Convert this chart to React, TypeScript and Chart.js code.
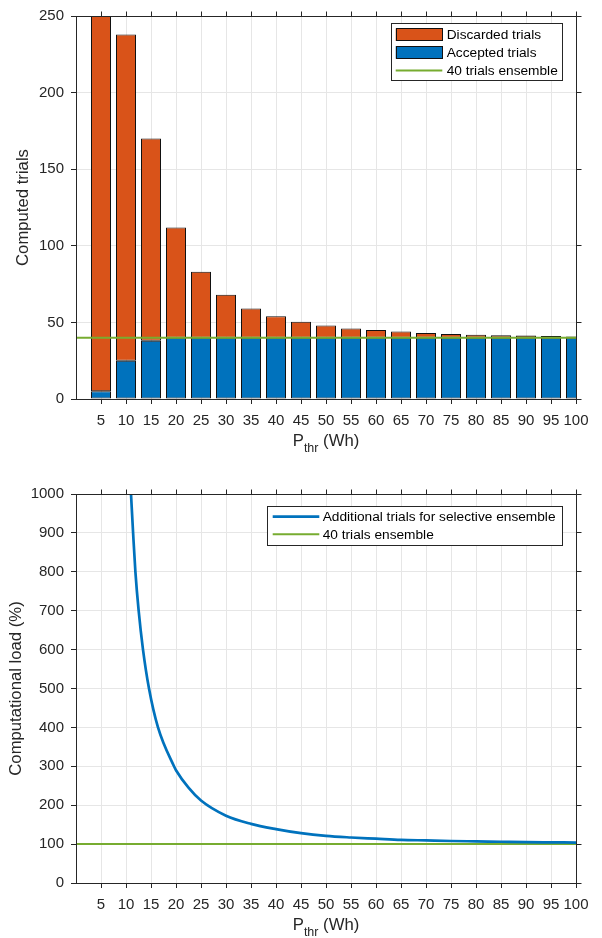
import React, { useEffect, useRef } from "react";
import { Chart, registerables } from "chart.js";

Chart.register(...registerables);

// ---------- data ----------
const P_THR = [5, 10, 15, 20, 25, 30, 35, 40, 45, 50, 55, 60, 65, 70, 75, 80, 85, 90, 95, 100];
const ACCEPTED = [5, 25, 38, 40, 40, 40, 40, 40, 40, 40, 40, 40, 40, 40, 40, 40, 40, 40, 40, 40];
const DISCARDED = [245, 213, 132, 72, 43, 28, 19, 14, 10.5, 8, 6, 5, 4, 3, 2.5, 2, 1.6, 1.4, 1.1, 0.8];
const ENSEMBLE_TRIALS = 40;

const LOAD_P = [11.0, 11.42, 11.88, 12.53, 13.4, 14.6, 16.4, 19.6, 20, 22.5, 25, 30, 35, 40, 45, 50, 55, 60, 65, 70, 75, 80, 85, 90, 95, 100];
const LOAD_PCT = [1000, 900, 800, 700, 600, 500, 400, 300, 290, 245, 212, 173, 152, 138.5, 128, 121, 117, 114, 111, 109.5, 108, 107, 106, 105, 104.5, 104];
const ENSEMBLE_LOAD = 100;

const X_TICKS = [5, 10, 15, 20, 25, 30, 35, 40, 45, 50, 55, 60, 65, 70, 75, 80, 85, 90, 95, 100];
const X_RANGE = [0, 100];
const Y1_RANGE = [0, 250];
const Y1_STEP = 50;
const Y2_RANGE = [0, 1000];
const Y2_STEP = 100;

const LABEL_DISCARDED = "Discarded trials";
const LABEL_ACCEPTED = "Accepted trials";
const LABEL_ENSEMBLE = "40 trials ensemble";
const LABEL_ADDITIONAL = "Additional trials for selective ensemble";
const Y1_TITLE = "Computed trials";
const Y2_TITLE = "Computational load (%)";

// ---------- styles ----------
const FONT = "'Liberation Sans', Arial, Helvetica, sans-serif";
const AX = "#262626";
const GRID = "#e6e6e6";
const BLUE = "#0072BD";
const ORANGE = "#D95319";
const GREEN = "#77AC30";

const al = (v: number) => Math.round(v - 0.5) + 0.5;

const framePlugin = {
  id: "frame",
  afterDatasetsDraw(chart: any) {
    const { ctx, chartArea: a, scales } = chart;
    const L = al(a.left);
    const R = al(a.right);
    const T = al(a.top);
    const B = al(a.bottom);
    ctx.save();
    ctx.strokeStyle = AX;
    ctx.lineWidth = 1;
    ctx.beginPath();
    ctx.rect(L, T, R - L, B - T);
    ctx.stroke();
    ctx.beginPath();
    for (const t of scales.x.ticks) {
      const x = al(scales.x.getPixelForValue(t.value));
      ctx.moveTo(x, T);
      ctx.lineTo(x, T - 5);
    }
    for (const t of scales.y.ticks) {
      const y = al(scales.y.getPixelForValue(t.value));
      ctx.moveTo(R, y);
      ctx.lineTo(R + 5, y);
    }
    ctx.stroke();
    ctx.restore();
  },
};

const xTitlePlugin = {
  id: "xTitle",
  afterDraw(chart: any) {
    const { ctx, chartArea: a } = chart;
    const cx = (a.left + a.right) / 2;
    const y = a.bottom + 42;
    const big = `16.7px ${FONT}`;
    const small = `12.5px ${FONT}`;
    ctx.save();
    ctx.font = big;
    const wP = ctx.measureText("P").width;
    const wR = ctx.measureText(" (Wh)").width;
    ctx.font = small;
    const wS = ctx.measureText("thr").width;
    let x = cx - (wP + wS + wR) / 2;
    ctx.fillStyle = AX;
    ctx.textBaseline = "middle";
    ctx.textAlign = "left";
    ctx.font = big;
    ctx.fillText("P", x, y);
    x += wP;
    ctx.font = small;
    ctx.fillText("thr", x, y + 8);
    x += wS;
    ctx.font = big;
    ctx.fillText(" (Wh)", x, y);
    ctx.restore();
  },
};

type LegendCfg = {
  box: { x: number; y: number; w: number; h: number };
  rows: number[];
  order: number[];
  swX: number;
  swW: number;
  textX: number;
};

function makeLegendPlugin(cfg: LegendCfg) {
  return {
    id: "customLegend",
    afterDraw(chart: any) {
      const { ctx } = chart;
      const ds = chart.data.datasets;
      const b = cfg.box;
      ctx.save();
      ctx.fillStyle = "#fff";
      ctx.fillRect(b.x, b.y, b.w, b.h);
      ctx.strokeStyle = AX;
      ctx.lineWidth = 1;
      ctx.strokeRect(Math.round(b.x) + 0.5, Math.round(b.y) + 0.5, Math.round(b.w) - 1, Math.round(b.h) - 1);
      ctx.font = `13.7px ${FONT}`;
      ctx.textBaseline = "middle";
      ctx.textAlign = "left";
      cfg.order.forEach((idx, i) => {
        const d = ds[idx];
        const y = cfg.rows[i];
        const isBar = (d.type || chart.config.type) === "bar";
        if (isBar) {
          ctx.fillStyle = d.backgroundColor;
          ctx.fillRect(cfg.swX, y - 6.3, cfg.swW, 12.6);
          ctx.strokeStyle = "#111";
          ctx.strokeRect(Math.round(cfg.swX) + 0.5, Math.round(y - 6.3) + 0.5, Math.round(cfg.swW) - 1, 12);
        } else {
          ctx.strokeStyle = d.borderColor;
          ctx.lineWidth = d.borderWidth;
          ctx.beginPath();
          ctx.moveTo(cfg.swX, y);
          ctx.lineTo(cfg.swX + cfg.swW, y);
          ctx.stroke();
          ctx.lineWidth = 1;
        }
        ctx.fillStyle = "#000";
        ctx.fillText(d.label, cfg.textX, y + 0.5);
      });
      ctx.restore();
    },
  };
}

function xScale(height: number, stacked: boolean) {
  return {
    type: "linear",
    min: X_RANGE[0],
    max: X_RANGE[1],
    offset: false,
    stacked,
    afterBuildTicks: (s: any) => {
      s.ticks = X_TICKS.map((v) => ({ value: v }));
    },
    afterFit: (s: any) => {
      s.height = height;
    },
    ticks: {
      autoSkip: false,
      maxRotation: 0,
      padding: 7.5,
      color: AX,
      font: { family: FONT, size: 15 },
      callback: (v: any) => String(v),
    },
    grid: { color: GRID, lineWidth: 1, tickLength: 5, tickColor: AX, offset: false },
    border: { display: true, color: AX, width: 1 },
  };
}

function yScale(range: number[], step: number, title: string, titlePad: number, stacked: boolean) {
  return {
    type: "linear",
    min: range[0],
    max: range[1],
    stacked,
    afterFit: (s: any) => {
      s.width = 76;
    },
    ticks: {
      stepSize: step,
      padding: 7,
      color: AX,
      font: { family: FONT, size: 15 },
      callback: (v: any) => String(v),
    },
    grid: { color: GRID, lineWidth: 1, tickLength: 5, tickColor: AX },
    border: { display: true, color: AX, width: 1 },
    title: {
      display: true,
      text: title,
      color: AX,
      font: { family: FONT, size: 16.7 },
      padding: { top: titlePad, bottom: 0 },
    },
  };
}

export default function App() {
  const r1 = useRef<HTMLCanvasElement>(null);
  const r2 = useRef<HTMLCanvasElement>(null);

  useEffect(() => {
    const c1 = new Chart(r1.current as HTMLCanvasElement, {
      type: "bar",
      data: {
        datasets: [
          {
            type: "bar",
            label: LABEL_ACCEPTED,
            data: P_THR.map((p, i) => ({ x: p, y: ACCEPTED[i] })),
            backgroundColor: BLUE,
            borderColor: "#111",
            borderWidth: 1,
            borderSkipped: false,
            barPercentage: 0.8,
            categoryPercentage: 1,
            order: 2,
          },
          {
            type: "bar",
            label: LABEL_DISCARDED,
            data: P_THR.map((p, i) => ({ x: p, y: DISCARDED[i] })),
            backgroundColor: ORANGE,
            borderColor: "#111",
            borderWidth: 1,
            borderSkipped: false,
            barPercentage: 0.8,
            categoryPercentage: 1,
            order: 2,
          },
          {
            type: "line",
            label: LABEL_ENSEMBLE,
            data: [
              { x: X_RANGE[0], y: ENSEMBLE_TRIALS },
              { x: X_RANGE[1], y: ENSEMBLE_TRIALS },
            ],
            borderColor: GREEN,
            borderWidth: 2,
            pointRadius: 0,
            stack: "ref",
            order: 1,
          },
        ],
      } as any,
      options: {
        animation: false,
        responsive: false,
        layout: { padding: { top: 10, right: 26, left: 0, bottom: 0 } },
        plugins: { legend: { display: false }, tooltip: { enabled: false } },
        scales: {
          x: xScale(70, true),
          y: yScale(Y1_RANGE, Y1_STEP, Y1_TITLE, 13.7, true),
        } as any,
      },
      plugins: [
        framePlugin,
        xTitlePlugin,
        makeLegendPlugin({
          box: { x: 391, y: 23.3, w: 172, h: 57.7 },
          rows: [34.7, 52.4, 70.5],
          order: [1, 0, 2],
          swX: 395.7,
          swW: 46.6,
          textX: 446.7,
        }),
      ],
    });

    const c2 = new Chart(r2.current as HTMLCanvasElement, {
      type: "line",
      data: {
        datasets: [
          {
            label: LABEL_ADDITIONAL,
            data: LOAD_P.map((p, i) => ({ x: p, y: LOAD_PCT[i] })),
            borderColor: BLUE,
            borderWidth: 2.7,
            pointRadius: 0,
            cubicInterpolationMode: "monotone",
            order: 1,
          },
          {
            label: LABEL_ENSEMBLE,
            data: [
              { x: X_RANGE[0], y: ENSEMBLE_LOAD },
              { x: X_RANGE[1], y: ENSEMBLE_LOAD },
            ],
            borderColor: GREEN,
            borderWidth: 2,
            pointRadius: 0,
            order: 2,
          },
        ],
      } as any,
      options: {
        animation: false,
        responsive: false,
        layout: { padding: { top: 25, right: 26, left: 0, bottom: 0 } },
        plugins: { legend: { display: false }, tooltip: { enabled: false } },
        scales: {
          x: xScale(55, false),
          y: yScale(Y2_RANGE, Y2_STEP, Y2_TITLE, 5.9, false),
        } as any,
      },
      plugins: [
        framePlugin,
        xTitlePlugin,
        makeLegendPlugin({
          box: { x: 267.3, y: 37, w: 295.7, h: 39.7 },
          rows: [47.7, 65.3],
          order: [0, 1],
          swX: 272.7,
          swW: 46.6,
          textX: 322.7,
        }),
      ],
    });

    return () => {
      c1.destroy();
      c2.destroy();
    };
  }, []);

  return (
    <div style={{ position: "fixed", left: 0, top: 0, width: 602, height: 938, background: "#fff" }}>
      <canvas ref={r1} width={602} height={469} style={{ position: "absolute", left: 0, top: 0, width: 602, height: 469 }} />
      <canvas ref={r2} width={602} height={469} style={{ position: "absolute", left: 0, top: 469, width: 602, height: 469 }} />
    </div>
  );
}
